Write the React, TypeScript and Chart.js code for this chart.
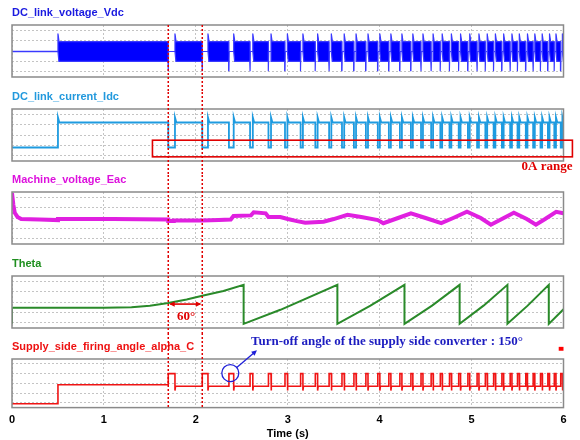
import { useEffect, useRef } from "react";
import { Chart, registerables } from "chart.js";
Chart.register(...registerables);

// ---------- axes ----------
const xMin = 0;
const xMax = 6;
const xStep = 1;
const yGridValues = [10, 30, 50, 70, 90];
const markerTimes = [1.7, 2.07];
const supplyOn = 0.5;

// ---------- converter pulse events (s) ----------
const pulseStarts = [1.70, 2.07, 2.36, 2.59, 2.79, 2.97, 3.14, 3.30, 3.45, 3.59, 3.72, 3.85, 3.98, 4.10, 4.22, 4.34, 4.45, 4.56, 4.66, 4.76, 4.86, 4.96, 5.06, 5.15, 5.24, 5.33, 5.42, 5.50, 5.59, 5.67, 5.75, 5.83, 5.90, 5.97];
const pulseWidths = [0.073, 0.062, 0.052, 0.030, 0.028, 0.026, 0.025, 0.025, 0.024, 0.024, 0.023, 0.023, 0.022, 0.022, 0.022, 0.021, 0.021, 0.021, 0.020, 0.020, 0.020, 0.020, 0.020, 0.020, 0.019, 0.019, 0.019, 0.019, 0.018, 0.018, 0.018, 0.018, 0.018, 0.018];

// ---------- DC link voltage (envelope levels, % of panel) ----------
const vdcIdle = 49;
const vdcTop = 68;
const vdcBottom = 30;
const vdcSpikeUp = 83;
const vdcSpikeDown = 12;
const vdcIdleTimes = [0, 0.5];
const vdcIdleValues = [49, 49];

// ---------- DC link current ----------
const idcOff = 26;
const idcOn = 74;
const idcSpike = 84;
const idcZero = 26;

// ---------- Machine voltage ----------
const eacTimes = [0, 0.015, 0.03, 0.06, 0.1, 0.3, 0.5, 0.5, 1.1, 1.7, 1.7, 1.76, 1.76, 2.07, 2.07, 2.25, 2.38, 2.41, 2.6, 2.63, 2.76, 2.79, 2.92, 3.0, 3.1, 3.19, 3.39, 3.5, 3.65, 3.8, 3.98, 4.04, 4.2, 4.34, 4.5, 4.67, 4.8, 4.95, 5.1, 5.21, 5.35, 5.46, 5.6, 5.7, 5.8, 5.92, 6.0];
const eacValues = [98, 75, 60, 52, 48, 47, 46, 48, 48, 47, 44, 44, 45, 45, 45, 46, 47, 54, 55, 61, 59, 52, 52, 48, 44, 41, 43, 48, 56, 52, 46, 40, 50, 59, 50, 40, 50, 62, 50, 37, 50, 60, 48, 37, 48, 62, 59];

// ---------- Theta ----------
const thetaTimes = [0, 0, 1.0, 1.3, 1.5, 1.7, 1.9, 2.07, 2.3, 2.52, 2.52, 2.92, 3.54, 3.54, 3.9, 4.27, 4.27, 4.57, 4.87, 4.87, 5.13, 5.39, 5.39, 5.61, 5.84, 5.84, 6.0];
const thetaValues = [8, 39, 39, 40, 43, 48, 55, 62, 71, 83, 8, 35, 83, 8, 43, 83, 8, 43, 83, 8, 43, 83, 8, 43, 83, 8, 36];

// ---------- Firing angle ----------
const alphaOff = 8;
const alphaPre = 47;
const alphaBase = 44;
const alphaPulse = 70;
const alphaDip = 35;

// ---------- annotations (data units) ----------
const zeroRangeBox = [1.528, 6.097, 8, 40]; // x0, x1, y0, y1
const zeroRangeLabel = [6.097, -11];
const sixtyArrowY = 46;
const sixtyLabel = [1.895, 21];
const turnOffCircle = [2.375, 71];
const turnOffArrowEnd = [2.665, 118];
const turnOffLabel = [2.6, 135.5];
const legendSquare = [5.948, 6.0, 117, 125];

const BLUE = "#0000ff";
const RED = "#e00000";
const SANS = 'Arial, "Liberation Sans", sans-serif';
const SERIF = '"Times New Roman", "Liberation Serif", serif';

type P = { x: number; y: number };

function buildVdc(): P[] {
  const upper: P[] = [{ x: xMin, y: vdcIdle }];
  const lower: P[] = [{ x: xMin, y: vdcIdle }];
  const bandStarts = [supplyOn, ...pulseStarts.map((p, i) => p + pulseWidths[i])];
  bandStarts.forEach((s, i) => {
    if (s >= xMax) return;
    const e = i < pulseStarts.length ? pulseStarts[i] : xMax;
    const last = e >= xMax;
    upper.push({ x: s, y: vdcIdle }, { x: s, y: vdcSpikeUp }, { x: s + 0.012, y: vdcTop }, { x: e, y: vdcTop });
    lower.push({ x: s, y: vdcIdle }, { x: s + 0.01, y: vdcBottom }, { x: e - 0.003, y: vdcBottom });
    if (!last) {
      upper.push({ x: e, y: vdcIdle });
      lower.push({ x: e, y: vdcSpikeDown }, { x: e + 0.003, y: vdcIdle });
    }
  });
  if (upper[upper.length - 1].x < xMax) {
    upper.push({ x: xMax, y: upper[upper.length - 1].y });
    lower.push({ x: xMax, y: lower[lower.length - 1].y });
  }
  return [...upper, ...lower.reverse()];
}

function buildIdc(): P[] {
  const pts: P[] = [
    { x: xMin, y: idcOff },
    { x: supplyOn, y: idcOff },
    { x: supplyOn, y: idcSpike },
    { x: supplyOn + 0.015, y: idcOn },
  ];
  pulseStarts.forEach((p, i) => {
    const e = p + pulseWidths[i];
    pts.push({ x: p, y: idcOn }, { x: p, y: idcZero }, { x: Math.min(e, xMax), y: idcZero });
    if (e < xMax) pts.push({ x: e, y: idcSpike }, { x: Math.min(e + 0.015, xMax), y: idcOn });
  });
  pts.push({ x: xMax, y: idcOn });
  return pts;
}

function buildAlpha(): P[] {
  const pts: P[] = [
    { x: xMin, y: alphaOff },
    { x: supplyOn, y: alphaOff },
    { x: supplyOn, y: alphaPre },
  ];
  pulseStarts.forEach((p, i) => {
    const base = i === 0 ? alphaPre : alphaBase;
    const e = p + pulseWidths[i];
    pts.push({ x: p, y: base }, { x: p, y: alphaPulse }, { x: e, y: alphaPulse }, { x: e, y: alphaDip }, { x: e + 0.006, y: alphaBase });
  });
  pts.push({ x: xMax, y: alphaBase });
  return pts;
}

const zip = (xs: number[], ys: number[]): P[] => xs.map((x, i) => ({ x, y: ys[i] }));

function arrowHead(ctx: CanvasRenderingContext2D, x: number, y: number, ang: number, size: number) {
  ctx.beginPath();
  ctx.moveTo(x, y);
  ctx.lineTo(x - size * Math.cos(ang - 0.45), y - size * Math.sin(ang - 0.45));
  ctx.lineTo(x - size * Math.cos(ang + 0.45), y - size * Math.sin(ang + 0.45));
  ctx.closePath();
  ctx.fill();
}

type Panel = {
  title: string;
  titleColor: string;
  top: number;
  h: number;
  pt: number;
  pb: number;
  showX: boolean;
  first: boolean;
  last: boolean;
  datasets: any[];
  extra?: (ctx: CanvasRenderingContext2D, X: (v: number) => number, Y: (v: number) => number) => void;
};

const panels: Panel[] = [
  {
    title: "DC_link_voltage_Vdc",
    titleColor: "#1a1ae0",
    top: 0, h: 92, pt: 25, pb: 15, showX: false, first: true, last: false,
    datasets: [
      { data: buildVdc(), borderColor: "#3a3aff", backgroundColor: BLUE, borderWidth: 1.2, fill: "shape", borderJoinStyle: "round" },
      { data: zip(vdcIdleTimes, vdcIdleValues), borderColor: "#4646ff", borderWidth: 1.5, fill: false },
    ],
  },
  {
    title: "DC_link_current_Idc",
    titleColor: "#2299dd",
    top: 92, h: 83, pt: 17, pb: 14, showX: false, first: false, last: false,
    datasets: [{ data: buildIdc(), borderColor: "#1e9be0", borderWidth: 1.8, fill: false }],
    extra: (ctx, X, Y) => {
      const [x0, x1, y0, y1] = zeroRangeBox;
      ctx.strokeStyle = RED;
      ctx.lineWidth = 1.6;
      ctx.strokeRect(X(x0), Y(y1), X(x1) - X(x0), Y(y0) - Y(y1));
      ctx.fillStyle = RED;
      ctx.font = `bold 13px ${SERIF}`;
      ctx.textAlign = "right";
      ctx.textBaseline = "middle";
      ctx.fillText("0A range", X(zeroRangeLabel[0]), Y(zeroRangeLabel[1]));
    },
  },
  {
    title: "Machine_voltage_Eac",
    titleColor: "#dd11dd",
    top: 175, h: 81, pt: 17, pb: 12, showX: false, first: false, last: false,
    datasets: [{ data: zip(eacTimes, eacValues), borderColor: "#e020e0", borderWidth: 4, fill: false }],
  },
  {
    title: "Theta",
    titleColor: "#1f8f1f",
    top: 256, h: 77, pt: 20, pb: 5, showX: false, first: false, last: false,
    datasets: [{ data: zip(thetaTimes, thetaValues), borderColor: "#2a8a2a", borderWidth: 2, fill: false }],
    extra: (ctx, X, Y) => {
      const xa = X(markerTimes[0]);
      const xb = X(markerTimes[1]);
      const y = Y(sixtyArrowY);
      ctx.strokeStyle = RED;
      ctx.fillStyle = RED;
      ctx.lineWidth = 1.6;
      ctx.beginPath();
      ctx.moveTo(xa + 2, y);
      ctx.lineTo(xb - 2, y);
      ctx.stroke();
      arrowHead(ctx, xa + 1, y, Math.PI, 6);
      arrowHead(ctx, xb - 1, y, 0, 6);
      ctx.font = `bold 13px ${SERIF}`;
      ctx.textAlign = "center";
      ctx.textBaseline = "middle";
      ctx.fillText("60°", X(sixtyLabel[0]), Y(sixtyLabel[1]));
    },
  },
  {
    title: "Supply_side_firing_angle_alpha_C",
    titleColor: "#ee1111",
    top: 333, h: 108, pt: 26, pb: 0, showX: true, first: false, last: true,
    datasets: [{ data: buildAlpha(), borderColor: "#f01414", borderWidth: 1.6, fill: false }],
    extra: (ctx, X, Y) => {
      const cx = X(turnOffCircle[0]);
      const cy = Y(turnOffCircle[1]);
      const r = 8.5;
      ctx.strokeStyle = "#2020d8";
      ctx.fillStyle = "#2020d8";
      ctx.lineWidth = 1.3;
      ctx.beginPath();
      ctx.arc(cx, cy, r, 0, Math.PI * 2);
      ctx.stroke();
      const ex = X(turnOffArrowEnd[0]);
      const ey = Y(turnOffArrowEnd[1]);
      const ang = Math.atan2(ey - cy, ex - cx);
      ctx.beginPath();
      ctx.moveTo(cx + r * Math.cos(ang), cy + r * Math.sin(ang));
      ctx.lineTo(ex - 3 * Math.cos(ang), ey - 3 * Math.sin(ang));
      ctx.stroke();
      arrowHead(ctx, ex, ey, ang, 6);
      ctx.fillStyle = "#1c1cc0";
      ctx.font = `bold 13px ${SERIF}`;
      ctx.textAlign = "left";
      ctx.textBaseline = "middle";
      ctx.fillText("Turn-off angle of the supply side converter : 150°", X(turnOffLabel[0]), Y(turnOffLabel[1]));
      const [sx0, sx1, sy0, sy1] = legendSquare;
      ctx.fillStyle = "#ff0000";
      ctx.fillRect(X(sx0), Y(sy1), X(sx1) - X(sx0), Y(sy0) - Y(sy1));
    },
  },
];

function makeDecor(p: Panel) {
  return {
    id: "decor",
    afterDraw(chart: any) {
      const { ctx, chartArea: a, scales } = chart;
      const X = (v: number) => scales.x.getPixelForValue(v);
      const Y = (v: number) => scales.y.getPixelForValue(v);
      ctx.save();
      ctx.strokeStyle = "#8a8a8a";
      ctx.lineWidth = 1.5;
      ctx.strokeRect(a.left, a.top, a.right - a.left, a.bottom - a.top);

      ctx.fillStyle = p.titleColor;
      ctx.font = `bold 11px ${SANS}`;
      ctx.textAlign = "left";
      ctx.textBaseline = "middle";
      ctx.fillText(p.title, a.left, a.top - 12);

      ctx.strokeStyle = RED;
      ctx.lineWidth = 1.5;
      ctx.setLineDash([2, 2]);
      const y0 = p.first ? a.top : 0;
      const y1 = p.last ? a.bottom : chart.height;
      for (const t of markerTimes) {
        const px = X(t);
        ctx.beginPath();
        ctx.moveTo(px, y0);
        ctx.lineTo(px, y1);
        ctx.stroke();
      }
      ctx.setLineDash([]);
      if (p.extra) p.extra(ctx, X, Y);
      ctx.restore();
    },
  };
}

function makeConfig(p: Panel): any {
  const gridCommon = { drawTicks: false, color: "#c4c4c4", lineWidth: 1 };
  return {
    type: "line",
    data: { datasets: p.datasets.map((d) => ({ ...d, pointRadius: 0, tension: 0 })) },
    options: {
      animation: false,
      responsive: false,
      events: [],
      layout: { padding: { left: 12, right: 16.5, top: p.pt, bottom: p.pb } },
      plugins: { legend: { display: false }, tooltip: { enabled: false }, title: { display: false } },
      scales: {
        x: {
          type: "linear",
          min: xMin,
          max: xMax,
          ticks: {
            display: p.showX,
            stepSize: xStep,
            padding: 6,
            color: "#000",
            font: { family: SANS, size: 11, weight: "bold" },
          },
          grid: gridCommon,
          border: { display: false, dash: [2, 2] },
          title: {
            display: p.showX,
            text: "Time (s)",
            color: "#000",
            font: { family: SANS, size: 11, weight: "bold" },
            padding: { top: -5, bottom: 0 },
          },
        },
        y: {
          min: 0,
          max: 100,
          ticks: { display: false },
          grid: gridCommon,
          border: { display: false, dash: [2, 2] },
          afterBuildTicks: (s: any) => {
            s.ticks = yGridValues.map((v) => ({ value: v }));
          },
        },
      },
    },
    plugins: [makeDecor(p)],
  };
}

export default function App() {
  const refs = useRef<(HTMLCanvasElement | null)[]>([]);
  useEffect(() => {
    document.body.style.margin = "0";
    const charts = panels.map((p, i) => new Chart(refs.current[i] as HTMLCanvasElement, makeConfig(p)));
    return () => charts.forEach((c) => c.destroy());
  }, []);
  return (
    <div style={{ position: "relative", width: 580, height: 440, background: "#fff", overflow: "hidden" }}>
      {panels.map((p, i) => (
        <canvas
          key={i}
          ref={(el) => {
            refs.current[i] = el;
          }}
          width={580}
          height={p.h}
          style={{ position: "absolute", left: 0, top: p.top, width: 580, height: p.h }}
        />
      ))}
    </div>
  );
}
